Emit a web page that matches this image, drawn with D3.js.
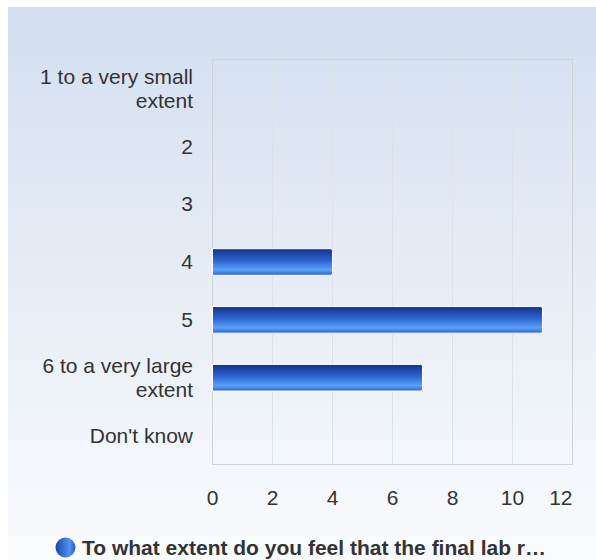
<!DOCTYPE html>
<html>
<head>
<meta charset="utf-8">
<script src="https://cdn.jsdelivr.net/npm/d3@7"></script>
<style>
  body { margin: 0; background: #fff; }
  text { font-family: "Liberation Sans", Arial, sans-serif; }
</style>
</head>
<body>
<div id="chart"></div>
<script>
var categories = ["1 to a very small\nextent", "2", "3", "4", "5", "6 to a very large\nextent", "Don't know"];
var values = [0, 0, 0, 4, 11, 7, 0];
var xTicks = [0, 2, 4, 6, 8, 10, 12];
var seriesName = "To what extent do you feel that the final lab r\u2026";

var width = 596, height = 560;
var margin = { top: 59.5, left: 212.5, right: 23.5, bottom: 95.5 };

var svg = d3.select("#chart").append("svg")
  .attr("width", width)
  .attr("height", height);

var defs = svg.append("defs");
var bg = defs.append("linearGradient").attr("id", "bg")
  .attr("x1", 0).attr("y1", 0).attr("x2", 0).attr("y2", 1);
bg.append("stop").attr("offset", "0%").attr("stop-color", "#d3dfef");
bg.append("stop").attr("offset", "100%").attr("stop-color", "#fafbfd");

var barGrad = defs.append("linearGradient").attr("id", "bar")
  .attr("x1", 0).attr("y1", 0).attr("x2", 0).attr("y2", 1);
barGrad.append("stop").attr("offset", "0%").attr("stop-color", "#13328a");
barGrad.append("stop").attr("offset", "45%").attr("stop-color", "#2d64d0");
barGrad.append("stop").attr("offset", "80%").attr("stop-color", "#5aa2fb");
barGrad.append("stop").attr("offset", "100%").attr("stop-color", "#2c62cf");

var dotGrad = defs.append("linearGradient").attr("id", "dot")
  .attr("x1", 0).attr("y1", 0).attr("x2", 1).attr("y2", 0);
dotGrad.append("stop").attr("offset", "0%").attr("stop-color", "#1a44a8");
dotGrad.append("stop").attr("offset", "70%").attr("stop-color", "#4f93f0");
dotGrad.append("stop").attr("offset", "100%").attr("stop-color", "#2a5cc4");

// background panel
svg.append("rect")
  .attr("x", 8).attr("y", 7)
  .attr("width", width - 8).attr("height", height - 7)
  .attr("fill", "url(#bg)");

var x = d3.scaleLinear()
  .domain([0, 12])
  .range([margin.left, width - margin.right]);

var y = d3.scaleBand()
  .domain(categories)
  .range([margin.top, height - margin.bottom])
  .paddingInner(0.54)
  .paddingOuter(0.27);

var plotH = height - margin.bottom - margin.top;

// grid lines
svg.append("g")
  .selectAll("line")
  .data(xTicks.slice(1, -1))
  .enter()
  .append("line")
  .attr("x1", function (d) { return x(d); })
  .attr("x2", function (d) { return x(d); })
  .attr("y1", margin.top)
  .attr("y2", height - margin.bottom)
  .attr("stroke", "#dde2e9")
  .attr("stroke-width", 1);

// plot frame
svg.append("rect")
  .attr("x", x(0)).attr("y", margin.top)
  .attr("width", x(12) - x(0)).attr("height", plotH)
  .attr("fill", "none")
  .attr("stroke", "#cfd3d8")
  .attr("stroke-width", 1);

// bars (zero values draw nothing)
svg.append("g")
  .selectAll("path")
  .data(values.map(function (v, i) { return { cat: categories[i], v: v }; })
    .filter(function (d) { return d.v > 0; }))
  .enter()
  .append("path")
  .attr("d", function (d) {
    var x0 = x(0), x1 = x(d.v), y0 = y(d.cat), h = y.bandwidth();
    var r = 2;
    return "M" + x0 + "," + y0 + "H" + (x1 - r) +
      "Q" + x1 + "," + y0 + " " + x1 + "," + (y0 + r) +
      "V" + (y0 + h - r) +
      "Q" + x1 + "," + (y0 + h) + " " + (x1 - r) + "," + (y0 + h) +
      "H" + x0 + "Z";
  })
  .attr("fill", "url(#bar)")
  .attr("stroke", "#ffffff")
  .attr("stroke-width", 1);

// y-axis labels
var yLabels = svg.append("g")
  .selectAll("text")
  .data(categories)
  .enter()
  .append("text")
  .attr("x", 193)
  .attr("y", function (d) { return y(d) + y.bandwidth() / 2; })
  .attr("text-anchor", "end")
  .attr("font-size", 21)
  .attr("fill", "#333");
yLabels.each(function (d) {
  var lines = d.split("\n");
  var t = d3.select(this);
  lines.forEach(function (line, k) {
    t.append("tspan")
      .attr("x", 193)
      .attr("dy", k === 0 ? (0.35 - (lines.length - 1) * 0.57) + "em" : "1.14em")
      .text(line);
  });
});

// x-axis labels (last one kept inside the plot edge)
svg.append("g")
  .selectAll("text")
  .data(xTicks)
  .enter()
  .append("text")
  .attr("x", function (d, i) { return i === xTicks.length - 1 ? x(d) : x(d); })
  .attr("y", 505)
  .attr("text-anchor", function (d, i) { return i === xTicks.length - 1 ? "end" : "middle"; })
  .attr("font-size", 21)
  .attr("fill", "#333")
  .text(function (d) { return d; });

// legend
svg.append("circle")
  .attr("cx", 65.5).attr("cy", 547.5).attr("r", 10)
  .attr("fill", "url(#dot)");
svg.append("text")
  .attr("x", 82).attr("y", 554.5)
  .attr("font-size", 21)
  .attr("font-weight", "bold")
  .attr("fill", "#333")
  .text(seriesName);
</script>
</body>
</html>
